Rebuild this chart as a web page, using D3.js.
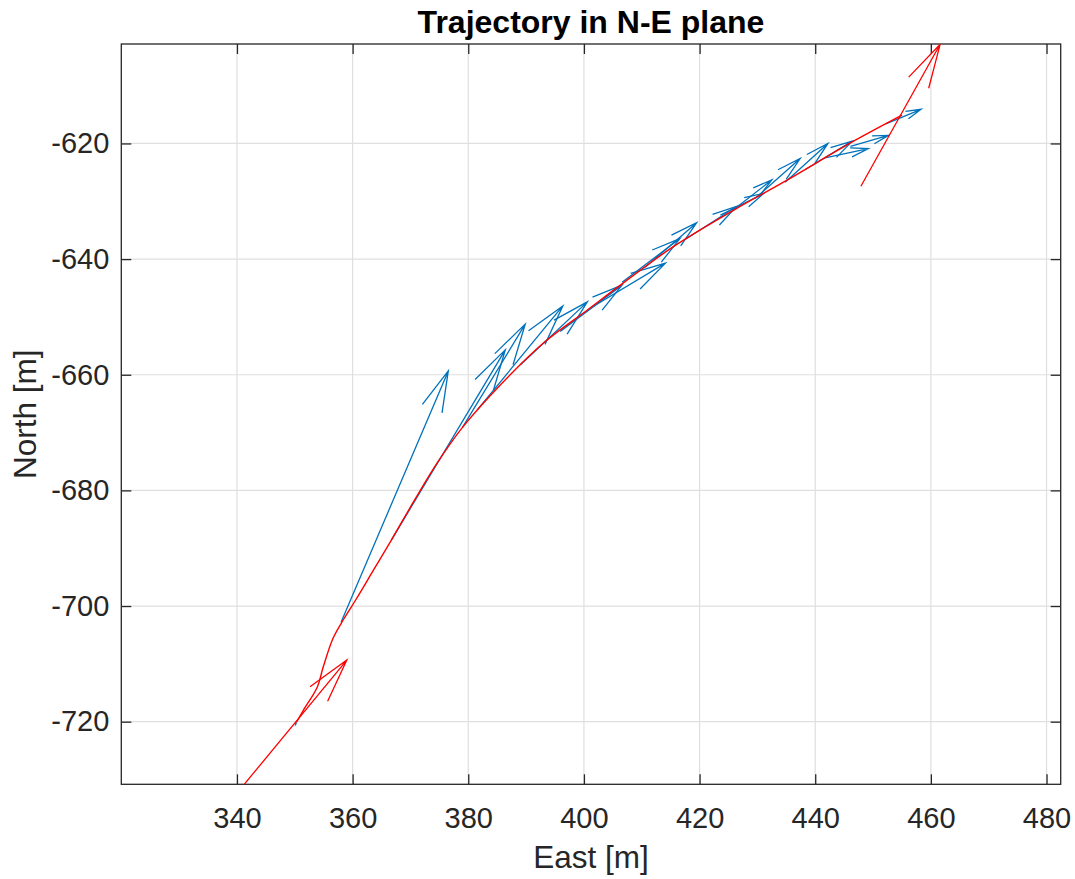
<!DOCTYPE html>
<html>
<head>
<meta charset="utf-8">
<script src="https://cdn.jsdelivr.net/npm/d3@7"></script>
<style>
	body { margin: 0; background: #fff; }
	svg { display: block; font-family: 'Liberation Sans', Arial, sans-serif; }
</style>
</head>
<body>
<div id="divChart"></div>
<script>
'use strict';

const width = 1075;
const height = 879;

// trajectory in the N-E plane
const trajEast = [350.3, 351.5, 353.9, 354.9, 356.6, 358.5, 360.5, 363.6, 366.7, 370.7, 374.6, 379.0, 385.5, 393.0, 400.6, 406.3, 415.4, 426.5, 435.2, 446.1, 455.0];
const trajNorth = [-720.1, -718.0, -714.0, -710.6, -705.6, -702.2, -699.0, -693.8, -688.6, -681.7, -675.3, -669.1, -661.8, -654.5, -648.8, -644.5, -637.9, -631.2, -626.3, -619.9, -615.1];

// blue quiver (tail position + components)
const blueEast = [350.3, 358.0, 366.7, 379.0, 381.55, 389.0, 395.9, 401.1, 406.6, 410.6, 417.5, 423.6, 425.8, 429.6, 434.8, 438.3, 441.7, 446.1, 452.2];
const blueNorth = [-720.1, -702.8, -688.6, -669.1, -666.1, -658.3, -652.5, -648.5, -644.0, -641.4, -636.6, -632.4, -631.5, -629.5, -626.7, -624.5, -622.5, -620.5, -616.6];
const blueU = [-0.15, 18.55, 19.7, 10.85, 14.8, 11.6, 10.7, 13.0, 10.0, 8.9, 8.9, 7.5, 6.7, 7.8, 7.4, 8.1, 7.5, 6.55, 6.1];
const blueV = [-0.35, 43.46, 32.9, 17.85, 18.0, 10.9, 8.0, 7.8, 7.55, 7.7, 5.7, 3.75, 5.2, 6.9, 6.7, 4.9, 1.6, 1.9, 2.5];

// red quiver (start and end)
const redEast = [340.3, 447.9];
const redNorth = [-732.0, -627.4];
const redU = [18.7, 13.7];
const redV = [22.65, 24.55];

const xTicks = [340, 360, 380, 400, 420, 440, 460, 480];
const yTicks = [-720, -700, -680, -660, -640, -620];

const plotLeft = 121.3;
const plotRight = 1060.7;
const plotTop = 44;
const plotBottom = 784.3;

const x = d3.scaleLinear().domain([320, 482.45]).range([plotLeft, plotRight]);
const y = d3.scaleLinear().domain([-730.83, -602.8]).range([plotBottom, plotTop]);

const svg = d3.select('#divChart')
	.append('svg')
	.attr('width', width)
	.attr('height', height);

svg.append('defs').append('clipPath')
	.attr('id', 'clipPlot')
	.append('rect')
	.attr('x', plotLeft)
	.attr('y', plotTop)
	.attr('width', plotRight - plotLeft)
	.attr('height', plotBottom - plotTop);

// grid
const grid = svg.append('g').attr('stroke', '#dfdfdf').attr('stroke-width', 1.2);
grid.selectAll('.gx').data(xTicks).join('line')
	.attr('x1', d => x(d)).attr('x2', d => x(d))
	.attr('y1', plotTop).attr('y2', plotBottom);
grid.selectAll('.gy').data(yTicks).join('line')
	.attr('x1', plotLeft).attr('x2', plotRight)
	.attr('y1', d => y(d)).attr('y2', d => y(d));

// axes
const tickLen = 10;
const axisColor = '#262626';
const axBottom = d3.axisBottom(x).tickValues(xTicks).tickSizeInner(-tickLen).tickSizeOuter(0).tickPadding(23);
const axTop = d3.axisTop(x).tickValues(xTicks).tickSizeInner(-tickLen).tickSizeOuter(0).tickFormat('');
const axLeft = d3.axisLeft(y).tickValues(yTicks).tickSizeInner(-tickLen).tickSizeOuter(0).tickPadding(12);
const axRight = d3.axisRight(y).tickValues(yTicks).tickSizeInner(-tickLen).tickSizeOuter(0).tickFormat('');

function styleAxis(g) {
	g.select('.domain').remove();
	g.selectAll('line').attr('stroke', axisColor).attr('stroke-width', 1.3);
	g.selectAll('text').attr('fill', axisColor).attr('font-size', 29).attr('font-family', "'Liberation Sans', Arial, sans-serif");
}

svg.append('g').attr('transform', `translate(0,${plotBottom})`).call(axBottom).call(styleAxis);
svg.append('g').attr('transform', `translate(0,${plotTop})`).call(axTop).call(styleAxis);
svg.append('g').attr('transform', `translate(${plotLeft},0)`).call(axLeft).call(styleAxis);
svg.append('g').attr('transform', `translate(${plotRight},0)`).call(axRight).call(styleAxis);

// MATLAB style minus sign
svg.selectAll('text').each(function () {
	const t = d3.select(this);
	t.text(t.text().replace('\u2212', '-'));
});

svg.append('rect')
	.attr('x', plotLeft).attr('y', plotTop)
	.attr('width', plotRight - plotLeft).attr('height', plotBottom - plotTop)
	.attr('fill', 'none').attr('stroke', axisColor).attr('stroke-width', 1.3);

// data layer
const layer = svg.append('g').attr('clip-path', 'url(#clipPlot)');

const line = d3.line()
	.x((d, i) => x(trajEast[i]))
	.y((d, i) => y(trajNorth[i]))
	.curve(d3.curveCatmullRom);

function drawQuiver(east, north, u, v, color, headMax) {
	const paths = [];
	for (let i = 0; i < east.length; i++) {
		const x0 = x(east[i]);
		const y0 = y(north[i]);
		const x1 = x(east[i] + u[i]);
		const y1 = y(north[i] + v[i]);
		const len = Math.hypot(x1 - x0, y1 - y0);
		const dx = (x1 - x0) / len;
		const dy = (y1 - y0) / len;
		const headLen = Math.min(0.4 * len, headMax);
		const halfW = 0.26 * headLen;
		const bx = x1 - headLen * dx;
		const by = y1 - headLen * dy;
		paths.push(`M${x0},${y0}L${x1},${y1}`
			+ `M${bx - halfW * dy},${by + halfW * dx}L${x1},${y1}L${bx + halfW * dy},${by - halfW * dx}`);
	}
	layer.append('g').selectAll('path').data(paths).join('path')
		.attr('d', d => d)
		.attr('fill', 'none')
		.attr('stroke', color)
		.attr('stroke-width', 1.3)
		.attr('stroke-linejoin', 'miter');
}

drawQuiver(blueEast, blueNorth, blueU, blueV, '#0072BD', 41);

layer.append('path')
	.attr('d', line(trajEast))
	.attr('fill', 'none')
	.attr('stroke', '#ff0000')
	.attr('stroke-width', 1.4);

drawQuiver(redEast, redNorth, redU, redV, '#ff0000', 44);

// labels
svg.append('text')
	.attr('x', (plotLeft + plotRight) / 2).attr('y', 33)
	.attr('text-anchor', 'middle')
	.attr('font-size', 32).attr('font-weight', 'bold').attr('fill', '#000')
	.text('Trajectory in N-E plane');

svg.append('text')
	.attr('x', (plotLeft + plotRight) / 2).attr('y', 868)
	.attr('text-anchor', 'middle')
	.attr('font-size', 31.5).attr('fill', axisColor)
	.text('East [m]');

svg.append('text')
	.attr('transform', `translate(36,${(plotTop + plotBottom) / 2}) rotate(-90)`)
	.attr('text-anchor', 'middle')
	.attr('font-size', 31.5).attr('fill', axisColor)
	.text('North [m]');
</script>
</body>
</html>
